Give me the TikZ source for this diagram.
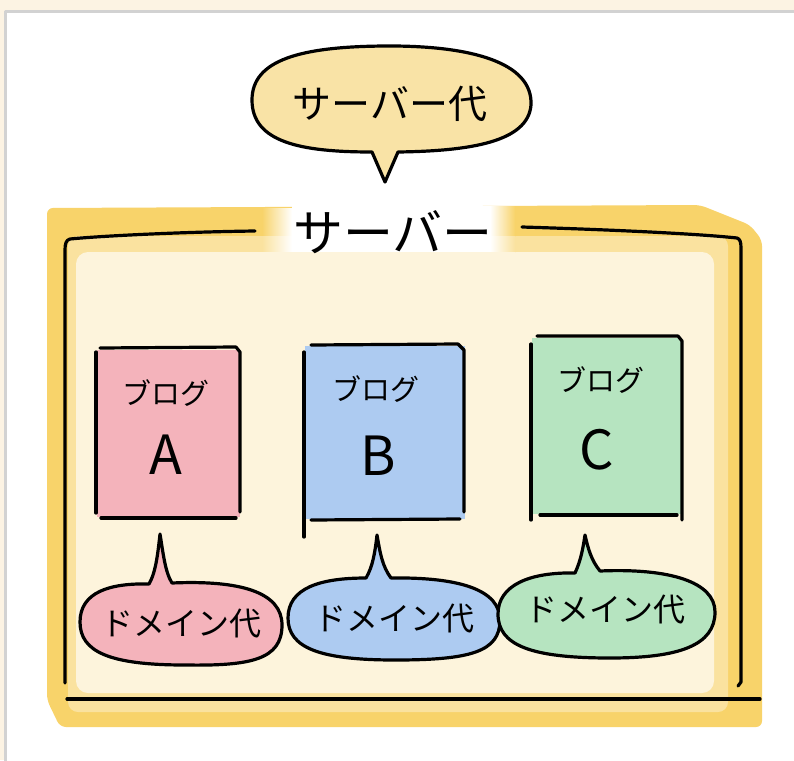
\documentclass[tikz,border=0pt]{standalone}
\usepackage{fontspec}
\newfontfamily\jp{Noto Sans CJK JP}
\definecolor{bgbeige}{HTML}{FCF3E3}
\definecolor{frameg}{HTML}{D2D2D2}
\definecolor{bandy}{HTML}{F8D36A}
\definecolor{bandm}{HTML}{FAE29F}
\definecolor{inner}{HTML}{FDF4DC}
\definecolor{bubbley}{HTML}{F9E3A6}
\definecolor{redf}{HTML}{F4B3BB}
\definecolor{bluef}{HTML}{ADCBF1}
\definecolor{greenf}{HTML}{B6E4C0}
\begin{document}
\begin{tikzpicture}[x=1pt,y=-1pt,line cap=round,line join=round,
  pen/.style={line width=3.2pt,black},
  jtext/.style={font=\jp\fontsize{#1}{#1}\selectfont,inner sep=0pt},
  jtext/.default=30]
\useasboundingbox (0,0) rectangle (794,760);
% page background
\fill[bgbeige] (0,0) rectangle (794,760);
\filldraw[fill=white,draw=frameg,line width=3pt] (5.5,11.5) rectangle (810,780);

% yellow band of the server
\fill[bandy,rounded corners=6pt] (47,208) -- (700,205) -- (750,225) -- (762,240) -- (762,727) -- (60,727) -- (47,700) -- cycle;
\fill[bandm,rounded corners=10pt] (68,236) rectangle (728,712);
\fill[inner,rounded corners=12pt] (76,252) rectangle (714,693);
% white gap behind the server label, fading into the band
\fill[white] (292,206) rectangle (490,252);
\shade[left color=bandy,right color=white] (262,208) rectangle (292,236);
\shade[left color=bandm,right color=white] (262,236) rectangle (292,252);
\shade[left color=white,right color=bandy] (490,206) rectangle (515,236);
\shade[left color=white,right color=bandm] (490,236) rectangle (515,252);
\fill[inner] (262,252) rectangle (515,256);

% server frame lines
\draw[pen] (255,231) .. controls (180,232) and (100,236) .. (70,239) .. controls (66,240) and (65,244) .. (65,250) -- (65,683);
\draw[pen] (522,227) .. controls (620,230) and (700,234) .. (737,238) .. controls (740,239) and (741,242) .. (741,248) -- (741,682) -- (738,686);
\draw[pen] (67,699) -- (760,699);

% server label
\node[jtext=50] (server) at (393,232) {サーバー};

% top cost bubble
\filldraw[pen,fill=bubbley] (398,152) .. controls (470,151) and (528,142) .. (531,105)
  .. controls (533,62) and (470,46) .. (390,46)
  .. controls (300,46) and (252,60) .. (252,100)
  .. controls (252,142) and (300,152) .. (372,152) -- (385,182) -- cycle;
\node[jtext=39] (servercost) at (390,104) {サーバー代};

% blog boxes
\fill[redf] (97,350) rectangle (240,517);
\draw[pen] (96,352) -- (96,513);
\draw[pen] (100,348) -- (236,347) -- (240,352) -- (240,512);
\draw[pen] (101,518) -- (236,518);
\node[jtext=29] (blogA) at (166,393) {ブログ};
\node[jtext=54] (letA) at (166,455) {A};

\fill[bluef] (305,346) rectangle (465,519);
\draw[pen] (304,352) -- (304,537);
\draw[pen] (311,345) -- (458,344) -- (464,350) -- (464,512);
\draw[pen] (311,520) -- (460,519);
\node[jtext=29] (blogB) at (376,389) {ブログ};
\node[jtext=54] (letB) at (378,456) {B};

\fill[greenf] (532,338) rectangle (682,514);
\draw[pen] (531,344) -- (531,520);
\draw[pen] (537,336) -- (678,336) -- (682,341) -- (682,520);
\draw[pen] (540,515) -- (677,515);
\node[jtext=29] (blogC) at (601,380) {ブログ};
\node[jtext=54] (letC) at (597,450) {C};

% domain bubbles
\filldraw[pen,fill=redf] (172,583) .. controls (240,580) and (282,592) .. (282,625)
  .. controls (282,660) and (250,666) .. (185,665)
  .. controls (110,665) and (80,652) .. (80,622)
  .. controls (80,592) and (110,583) .. (149,584)
  .. controls (156,572) and (158,552) .. (160,534)
  .. controls (163,552) and (165,572) .. (172,583) -- cycle;
\node[jtext=32] (domA) at (181,624) {ドメイン代};

\filldraw[pen,fill=bluef] (391,578) .. controls (460,577) and (500,590) .. (500,620)
  .. controls (500,652) and (470,660) .. (395,660)
  .. controls (320,660) and (288,648) .. (288,618)
  .. controls (288,588) and (320,578) .. (366,578)
  .. controls (373,566) and (375,552) .. (377,535)
  .. controls (380,552) and (382,566) .. (391,578) -- cycle;
\node[jtext=32] (domB) at (394,619) {ドメイン代};

\filldraw[pen,fill=greenf] (600,571) .. controls (670,568) and (715,582) .. (715,612)
  .. controls (715,645) and (680,658) .. (610,658)
  .. controls (530,658) and (498,645) .. (498,614)
  .. controls (498,585) and (530,572) .. (575,573)
  .. controls (581,560) and (583,548) .. (585,535)
  .. controls (588,548) and (591,560) .. (600,571) -- cycle;
\node[jtext=32] (domC) at (605,610) {ドメイン代};
\end{tikzpicture}
\end{document}
